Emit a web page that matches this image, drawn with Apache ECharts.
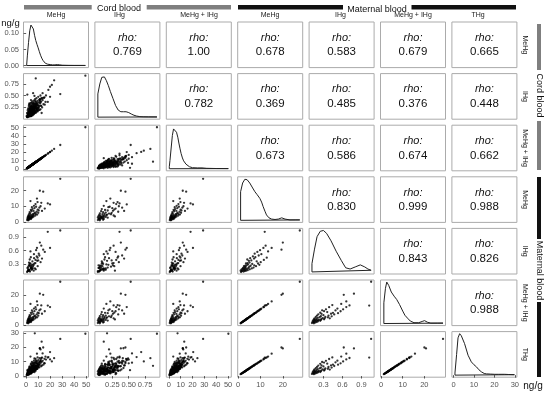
<!DOCTYPE html>
<html><head><meta charset="utf-8">
<script src="https://cdn.jsdelivr.net/npm/echarts@6/dist/echarts.min.js"></script>
<style>html,body{margin:0;padding:0;background:#fff}#c{width:550px;height:395px}</style>
</head><body><div id="c"></div>
<script>
// ---------- DATA ----------
// subjects with maternal speciation (subset)
const cordMeHgSub = [28.4,11.4,14.2,9.0,3.6,9.5,12.6,18.0,7.8,19.9,6.5,12.0,8.3,4.8,11.0,6.9,15.5,5.2,9.6,3.9,10.5,6.1,13.2,4.5,8.8,2.9,7.3,10.1,3.3,6.6,8.0,2.4,5.6,9.2,4.1,6.0,1.9,7.7,3.0,5.0,2.2,6.3,3.6,1.6,4.7,2.7,5.4,1.3,3.8,2.5,4.4,1.8,3.2,1.1,2.8,4.0,1.5,2.3,0.8,1.7];
const cordIHgSub = [0.53,0.38,0.45,0.22,0.16,0.33,0.27,0.36,0.31,0.47,0.12,0.35,0.21,0.19,0.40,0.25,0.30,0.09,0.28,0.14,0.18,0.26,0.43,0.08,0.34,0.11,0.15,0.24,0.06,0.20,0.13,0.10,0.23,0.17,0.05,0.16,0.07,0.27,0.13,0.11,0.04,0.29,0.09,0.06,0.15,0.08,0.12,0.03,0.18,0.07,0.10,0.09,0.05,0.04,0.12,0.07,0.05,0.11,0.03,0.06];
const cordSumSub = [28.93,11.78,14.65,9.22,3.76,9.83,12.87,18.36,8.11,20.37,6.62,12.35,8.51,4.99,11.40,7.15,15.80,5.29,9.88,4.04,10.68,6.36,13.63,4.58,9.14,3.01,7.45,10.34,3.36,6.80,8.13,2.50,5.83,9.37,4.15,6.16,1.97,7.97,3.13,5.11,2.24,6.59,3.69,1.66,4.85,2.78,5.52,1.33,3.98,2.57,4.50,1.89,3.25,1.14,2.92,4.07,1.55,2.41,0.83,1.76];
const matMeHgSub = [27.6,20.0,19.4,15.0,13.4,12.8,12.3,11.9,11.5,11.3,10.4,10.1,9.8,9.5,9.2,8.9,8.6,8.3,8.0,7.7,7.4,7.2,7.1,6.9,6.6,6.3,6.1,5.9,5.6,5.4,5.2,5.1,5.0,4.8,4.6,4.4,4.3,4.2,4.1,3.9,3.8,3.6,3.5,3.4,3.3,3.2,3.1,3.0,2.8,2.7,2.6,2.5,2.4,2.2,2.0,1.9,1.7,1.5,1.3,1.1];
const matIHgSub = [1.05,0.78,0.62,0.66,0.58,0.44,0.71,1.02,0.39,0.66,0.52,0.34,0.61,0.28,0.49,0.31,0.57,0.36,0.25,0.45,0.53,0.27,0.42,0.22,0.47,0.30,0.20,0.38,0.26,0.43,0.18,0.33,0.24,0.37,0.21,0.29,0.16,0.32,0.40,0.19,0.27,0.15,0.31,0.23,0.17,0.26,0.20,0.14,0.22,0.16,0.25,0.18,0.13,0.21,0.15,0.19,0.14,0.17,0.12,0.15];
const matSumSub = [28.65,20.78,20.02,15.66,13.98,13.24,13.01,12.92,11.89,11.96,10.92,10.44,10.41,9.78,9.69,9.21,9.17,8.66,8.25,8.15,7.93,7.47,7.52,7.12,7.07,6.60,6.30,6.28,5.86,5.83,5.38,5.43,5.24,5.17,4.81,4.69,4.46,4.52,4.50,4.09,4.07,3.75,3.81,3.63,3.47,3.46,3.30,3.14,3.02,2.86,2.85,2.68,2.53,2.41,2.15,2.09,1.84,1.67,1.42,1.25];
const thgSub = [25.9,19.3,19.9,15.6,13.6,13.0,12.6,12.9,11.9,11.6,10.7,10.6,10.2,9.8,9.6,9.4,8.9,8.6,8.5,8.0,7.9,7.5,7.4,7.3,7.0,6.7,6.4,6.3,5.8,5.9,5.5,5.3,5.4,5.1,4.8,4.7,4.6,4.4,4.5,4.2,4.0,3.9,3.8,3.6,3.5,3.4,3.3,3.2,3.0,2.9,2.8,2.7,2.6,2.4,2.2,2.1,1.9,1.7,1.5,1.3];
// subjects without maternal speciation
const cordMeHgRest = [49.3,7.2,12.9,8.0,23.3,21.4,19.9,11.4,12.0,13.7,5.8,1.0,18.5,16.5,15.0,0.4,0.8,1.1,1.3,1.5,1.7,1.9,2.0,2.2,2.3,2.5,2.6,2.8,2.9,3.0,3.1,3.3,3.4,3.5,3.6,3.7,3.8,3.9,4.0,4.1,4.2,4.3,4.4,4.5,4.6,4.7,4.8,4.9,5.0,5.1,5.2,5.3,5.4,5.5,5.6,5.7,5.9,6.0,6.1,6.3,6.4,6.5,6.7,6.8,7.0,7.1,7.3,7.4,7.6,7.7,7.9,8.1,8.2,8.4,8.6,8.8,9.0,9.2,9.4,9.6,9.9,10.1,10.3,10.6,10.8,11.1,11.3,11.6,11.9,12.2,12.5,12.9,13.3,13.8,14.4,15.2,16.1,6.9,4.0,2.7,1.2,2.1,3.2,4.4,5.3,6.2,7.2,8.3,9.5,2.4,3.5,4.6,5.8,6.9,1.6,2.7,3.8,4.9,6.0,7.5,8.7,10.0,3.0,4.2,5.6,2.0,3.4,4.7,6.4,7.8,1.0,2.9,3.9,5.1,6.6,8.0,9.1,11.0,2.2,3.6,4.5,5.5,6.7,1.8,3.3,4.1,5.2,7.0,8.5,12.0];
const cordIHgRest = [0.93,0.17,0.12,0.87,0.83,0.73,0.69,0.42,0.20,0.55,0.55,0.52,0.62,0.50,0.45,0.05,0.12,0.04,0.18,0.08,0.22,0.06,0.14,0.27,0.09,0.17,0.05,0.24,0.12,0.31,0.07,0.19,0.10,0.28,0.15,0.06,0.21,0.34,0.11,0.25,0.08,0.18,0.30,0.13,0.22,0.07,0.26,0.16,0.37,0.10,0.20,0.29,0.14,0.23,0.09,0.32,0.18,0.26,0.12,0.39,0.21,0.15,0.28,0.11,0.33,0.19,0.25,0.42,0.16,0.30,0.22,0.36,0.13,0.27,0.44,0.20,0.31,0.24,0.38,0.17,0.29,0.47,0.23,0.35,0.26,0.41,0.19,0.33,0.50,0.28,0.37,0.45,0.24,0.40,0.31,0.46,0.36,0.49,0.40,0.33,0.10,0.20,0.13,0.06,0.17,0.35,0.12,0.24,0.15,0.30,0.08,0.27,0.14,0.22,0.07,0.16,0.26,0.10,0.20,0.38,0.29,0.21,0.21,0.15,0.33,0.11,0.24,0.18,0.09,0.26,0.06,0.09,0.12,0.25,0.17,0.32,0.19,0.28,0.14,0.19,0.34,0.07,0.31,0.15,0.05,0.21,0.13,0.23,0.17,0.42];
const cordSumRest = [50.23,7.37,13.02,8.87,24.13,22.13,20.59,11.82,12.20,14.25,6.35,1.52,19.12,17.00,15.45,0.45,0.92,1.14,1.48,1.58,1.92,1.96,2.14,2.47,2.39,2.67,2.65,3.04,3.02,3.31,3.17,3.49,3.50,3.78,3.75,3.76,4.01,4.24,4.11,4.35,4.28,4.48,4.70,4.63,4.82,4.77,5.06,5.06,5.37,5.20,5.40,5.59,5.54,5.73,5.69,6.02,6.08,6.26,6.22,6.69,6.61,6.65,6.98,6.91,7.33,7.29,7.55,7.82,7.76,8.00,8.12,8.46,8.33,8.67,9.04,9.00,9.31,9.44,9.78,9.77,10.19,10.57,10.53,10.95,11.06,11.51,11.49,11.93,12.40,12.48,12.87,13.35,13.54,14.20,14.71,15.66,16.46,7.39,4.40,3.03,1.30,2.30,3.33,4.46,5.47,6.55,7.32,8.54,9.65,2.70,3.58,4.87,5.94,7.12,1.67,2.86,4.06,5.00,6.20,7.88,8.99,10.21,3.21,4.35,5.93,2.11,3.64,4.88,6.49,8.06,1.06,2.99,4.02,5.35,6.77,8.32,9.29,11.28,2.34,3.79,4.84,5.57,7.01,1.95,3.35,4.31,5.33,7.23,8.67,12.42];
const thgRest = [29.5,29.8,24.0,7.1,12.5,10.2,16.7,19.4,18.6,15.8,9.3,4.1,13.2,11.5,9.0,0.7,1.2,0.9,2.1,1.4,1.8,2.6,1.1,3.0,2.2,1.6,3.4,2.5,4.1,1.9,2.9,3.7,2.3,4.6,3.1,1.7,5.2,3.6,2.7,4.3,3.3,5.8,2.4,4.0,3.5,6.3,2.8,4.8,3.9,5.5,2.6,4.4,7.0,3.2,5.1,4.2,6.0,3.7,5.3,4.6,7.6,3.4,5.9,4.9,6.6,3.9,8.2,5.6,4.5,6.9,5.0,9.1,6.1,4.8,7.4,8.8,5.7,10.3,6.9,8.0,7.2,11.1,6.4,9.5,8.3,12.4,7.6,10.0,8.9,11.7,6.8,9.8,12.9,10.6,7.9,12.0,13.5,12.3,8.6,6.2,1.6,3.8,2.0,5.1,2.9,6.8,4.2,10.8,5.2,1.3,6.1,3.0,8.4,2.7,2.8,1.5,4.7,7.3,3.3,9.6,6.3,7.9,3.5,1.8,5.6,2.4,5.4,4.1,5.0,3.6,0.8,2.2,3.1,6.6,4.4,7.1,9.0,6.0,1.0,2.6,3.9,4.3,8.7,3.2,4.5,2.1,3.7,5.8,4.9,10.4];

// density curves
const densCordMeHgX = [0.4,1,2,3,4,4.5,5,6,7,8,9,10,11,12,13,14,15,16,17,18,20,22,24,26,28,30,35,40,45,49.3];
const densCordMeHgY = [0.004,0.03,0.072,0.108,0.126,0.129,0.127,0.114,0.094,0.078,0.066,0.055,0.043,0.032,0.023,0.016,0.011,0.007,0.005,0.004,0.003,0.002,0.002,0.003,0.002,0.001,0.0005,0.0003,0.0003,0.0002];
const densCordIHgX = [0.03,0.06,0.09,0.11,0.13,0.16,0.19,0.22,0.26,0.30,0.34,0.38,0.42,0.46,0.50,0.54,0.58,0.62,0.67,0.72,0.80,0.87,0.93];
const densCordIHgY = [0.56,0.80,0.96,1.0,0.97,0.88,0.76,0.62,0.45,0.28,0.17,0.13,0.13,0.13,0.11,0.075,0.045,0.026,0.012,0.008,0.006,0.005,0.004];
const densCordSumX = [0.43,1,2,3,4,4.8,5.5,6.5,7.6,8.5,9.5,10.4,11.5,12.5,13.2,14.5,15.5,17.4,20,24,28,32,40,50.2];
const densCordSumY = [0.05,0.2,0.5,0.8,0.96,1.0,0.97,0.88,0.76,0.62,0.48,0.365,0.26,0.19,0.167,0.11,0.08,0.048,0.025,0.02,0.02,0.01,0.005,0.003];
const densMatMeHgX = [1.1,2,3,3.4,4,5.2,6.5,7.5,8.5,9.7,10.5,11.2,12,12.7,13.8,15,16.5,18,19.5,21,23.2,25.5,27.6];
const densMatMeHgY = [0.69,0.9,0.99,1.0,0.98,0.9,0.78,0.69,0.62,0.53,0.44,0.33,0.22,0.13,0.06,0.03,0.02,0.03,0.06,0.03,0.01,0.01,0.01];
const densMatIHgX = [0.12,0.16,0.2,0.25,0.3,0.35,0.42,0.5,0.58,0.65,0.72,0.8,0.88,0.95,1.0,1.05];
const densMatIHgY = [0.2,0.55,0.85,0.98,1.0,0.93,0.75,0.5,0.28,0.1,0.07,0.12,0.17,0.12,0.07,0.04];
const densMatSumX = [1.25,2,2.6,3.5,4.7,6,7.2,8.5,10,11,12.2,13.5,15.2,17.4,19,20.1,21.5,23,26,28.65];
const densMatSumY = [0.5,0.85,1.0,0.92,0.76,0.66,0.58,0.46,0.3,0.2,0.13,0.06,0.02,0.02,0.05,0.07,0.03,0.01,0.01,0.01];
const densTHgX = [0.7,1.5,2.2,3.0,3.8,5.4,7.1,8.7,10,11.2,12.4,13.6,15,16.1,18,20.2,22,25,27,29.8];
const densTHgY = [0.05,0.5,0.9,1.0,0.95,0.76,0.48,0.32,0.25,0.2,0.13,0.08,0.04,0.03,0.025,0.02,0.02,0.02,0.015,0.01];

// labels and correlations
const varLabels = ['MeHg','IHg','MeHg + IHg','MeHg','IHg','MeHg + IHg','THg'];
const rhoValues = ['0.769','1.00','0.678','0.583','0.679','0.665','0.782','0.369','0.485','0.376','0.448','0.673','0.586','0.674','0.662','0.830','0.999','0.988','0.843','0.826','0.988'];
const tickVals = [[0,10,20,30,40,50],[0.25,0.5,0.75],[0,10,20,30,40,50],[0,10,20],[0.3,0.6,0.9],[0,10,20],[0,10,20,30]];
const tickLabels = [['0','10','20','30','40','50'],['0.25','0.50','0.75'],['0','10','20','30','40','50'],['0','10','20'],['0.3','0.6','0.9'],['0','10','20'],['0','10','20','30']];
const densTickVals = [0,0.05,0.10];
const densTickLabels = ['0.00','0.05','0.10'];

// ---------- LAYOUT ----------
const L0 = 23.5, PX = 71.4, W = 65, T0 = 22, PY = 51.6, H = 45.6;
const axMin = [-2.2,-0.015,-2.1,-0.2,0.075,-0.3,-0.8];
const axMax = [51.9,0.975,52.7,28.9,1.097,29.8,31.0];
const FONT = "'Liberation Sans', Arial, sans-serif";

const vars = [
  {sub: cordMeHgSub, rest: cordMeHgRest},
  {sub: cordIHgSub, rest: cordIHgRest},
  {sub: cordSumSub, rest: cordSumRest},
  {sub: matMeHgSub, rest: null},
  {sub: matIHgSub, rest: null},
  {sub: matSumSub, rest: null},
  {sub: thgSub, rest: thgRest}
];
const dens = [
  [densCordMeHgX, densCordMeHgY], [densCordIHgX, densCordIHgY], [densCordSumX, densCordSumY],
  [densMatMeHgX, densMatMeHgY], [densMatIHgX, densMatIHgY], [densMatSumX, densMatSumY], [densTHgX, densTHgY]
];

function fmt(vals, labels) {
  return function (v) {
    const i = vals.findIndex(t => Math.abs(t - v) < 1e-9);
    return i >= 0 ? labels[i] : '';
  };
}

const grids = [], xAxes = [], yAxes = [], series = [], graphics = [];
let rhoIdx = 0;
for (let r = 0; r < 7; r++) {
  for (let c = 0; c < 7; c++) {
    const g = r * 7 + c;
    const left = L0 + c * PX, top = T0 + r * PY;
    grids.push({left: left, top: top, width: W, height: H, show: true,
      borderColor: '#ababab', borderWidth: 1, backgroundColor: '#ffffff', containLabel: false});
    const isText = r < c;
    const bottom = r === 6, leftCol = c === 0;
    xAxes.push({gridIndex: g, type: 'value', min: axMin[c], max: axMax[c], show: !isText,
      axisLine: {show: false}, splitLine: {show: false},
      axisTick: {show: bottom, length: 2.5, customValues: tickVals[c], lineStyle: {color: '#333', width: 0.8}},
      axisLabel: {show: bottom, customValues: tickVals[c], formatter: fmt(tickVals[c], tickLabels[c]),
        fontSize: 7.5, color: '#555', margin: 4, fontFamily: FONT}});
    let ymin, ymax, yv, yl;
    if (r === c) {
      const peak = Math.max.apply(null, dens[r][1]);
      ymin = -0.05 * peak; ymax = 1.05 * peak;
      yv = densTickVals; yl = densTickLabels;
    } else {
      ymin = axMin[r]; ymax = axMax[r]; yv = tickVals[r]; yl = tickLabels[r];
    }
    yAxes.push({gridIndex: g, type: 'value', min: ymin, max: ymax, show: !isText,
      axisLine: {show: false}, splitLine: {show: false},
      axisTick: {show: leftCol, length: 2.5, customValues: yv, lineStyle: {color: '#333', width: 0.8}},
      axisLabel: {show: leftCol, customValues: yv, formatter: fmt(yv, yl),
        fontSize: 7.5, color: '#555', margin: 4.5, fontFamily: FONT}});
    if (r > c) {
      const pts = [];
      const xs = vars[c], ys = vars[r];
      for (let i = 0; i < xs.sub.length; i++) pts.push([xs.sub[i], ys.sub[i]]);
      if (xs.rest && ys.rest) for (let i = 0; i < xs.rest.length; i++) pts.push([xs.rest[i], ys.rest[i]]);
      series.push({type: 'scatter', xAxisIndex: g, yAxisIndex: g, data: pts, symbol: 'circle',
        symbolSize: 2.3, itemStyle: {color: '#000'}, silent: true});
    } else if (r === c) {
      const dx = dens[r][0], dy = dens[r][1];
      const pts = [[dx[0], 0]];
      for (let i = 0; i < dx.length; i++) pts.push([dx[i], dy[i]]);
      pts.push([dx[dx.length - 1], 0]);
      pts.push([dx[0], 0]);
      series.push({type: 'line', xAxisIndex: g, yAxisIndex: g, data: pts, showSymbol: false,
        lineStyle: {color: '#222', width: 1}, silent: true});
    } else {
      const cx = left + W / 2, cy = top + H / 2;
      graphics.push({type: 'text', x: cx, y: cy - 7, style: {text: 'rho:', fill: '#111',
        font: 'italic 11px ' + FONT, textAlign: 'center', textVerticalAlign: 'middle'}});
      graphics.push({type: 'text', x: cx, y: cy + 7.5, style: {text: rhoValues[rhoIdx++], fill: '#111',
        font: '11.5px ' + FONT, textAlign: 'center', textVerticalAlign: 'middle'}});
    }
  }
}

// column headers and row labels
const headerX = [56, 119.5, 199, 270, 340.5, 413, 478];
for (let i = 0; i < 7; i++) {
  graphics.push({type: 'text', x: headerX[i], y: 15.5, style: {text: varLabels[i], fill: '#1a1a1a',
    font: '7px ' + FONT, textAlign: 'center', textVerticalAlign: 'middle'}});
  graphics.push({type: 'text', x: 525, y: T0 + i * PY + H / 2, rotation: -Math.PI / 2,
    style: {text: varLabels[i], fill: '#1a1a1a', font: '7px ' + FONT, textAlign: 'center', textVerticalAlign: 'middle'}});
}
// group strips
const GRAY = '#7f7f7f', BLACK = '#111111';
[[24, 67.7, GRAY], [146.7, 84.3, GRAY], [238, 105, BLACK], [411.5, 104.5, BLACK]].forEach(b => {
  graphics.push({type: 'rect', shape: {x: b[0], y: 5, width: b[1], height: 4.5}, style: {fill: b[2]}});
});
graphics.push({type: 'text', x: 119, y: 9, style: {text: 'Cord blood', fill: '#111', font: '9px ' + FONT, textAlign: 'center', textVerticalAlign: 'middle'}});
graphics.push({type: 'text', x: 377, y: 9.5, style: {text: 'Maternal blood', fill: '#111', font: '9px ' + FONT, textAlign: 'center', textVerticalAlign: 'middle'}});
[[24, 46, GRAY], [121, 49, GRAY], [177, 62, BLACK], [302, 75, BLACK]].forEach(b => {
  graphics.push({type: 'rect', shape: {x: 537, y: b[0], width: 4, height: b[1]}, style: {fill: b[2]}});
});
graphics.push({type: 'text', x: 539.5, y: 95.5, rotation: -Math.PI / 2, style: {text: 'Cord blood', fill: '#111', font: '9px ' + FONT, textAlign: 'center', textVerticalAlign: 'middle'}});
graphics.push({type: 'text', x: 539.5, y: 270.5, rotation: -Math.PI / 2, style: {text: 'Maternal blood', fill: '#111', font: '9px ' + FONT, textAlign: 'center', textVerticalAlign: 'middle'}});
graphics.push({type: 'text', x: 10.5, y: 23.5, style: {text: 'ng/g', fill: '#111', font: '9.5px ' + FONT, textAlign: 'center', textVerticalAlign: 'middle'}});
graphics.push({type: 'text', x: 533, y: 386, style: {text: 'ng/g', fill: '#111', font: '10px ' + FONT, textAlign: 'center', textVerticalAlign: 'middle'}});

const chart = echarts.init(document.getElementById('c'), null, {renderer: 'canvas'});
chart.setOption({animation: false, textStyle: {fontFamily: FONT}, grid: grids, xAxis: xAxes, yAxis: yAxes, series: series, graphic: graphics});
</script></body></html>
